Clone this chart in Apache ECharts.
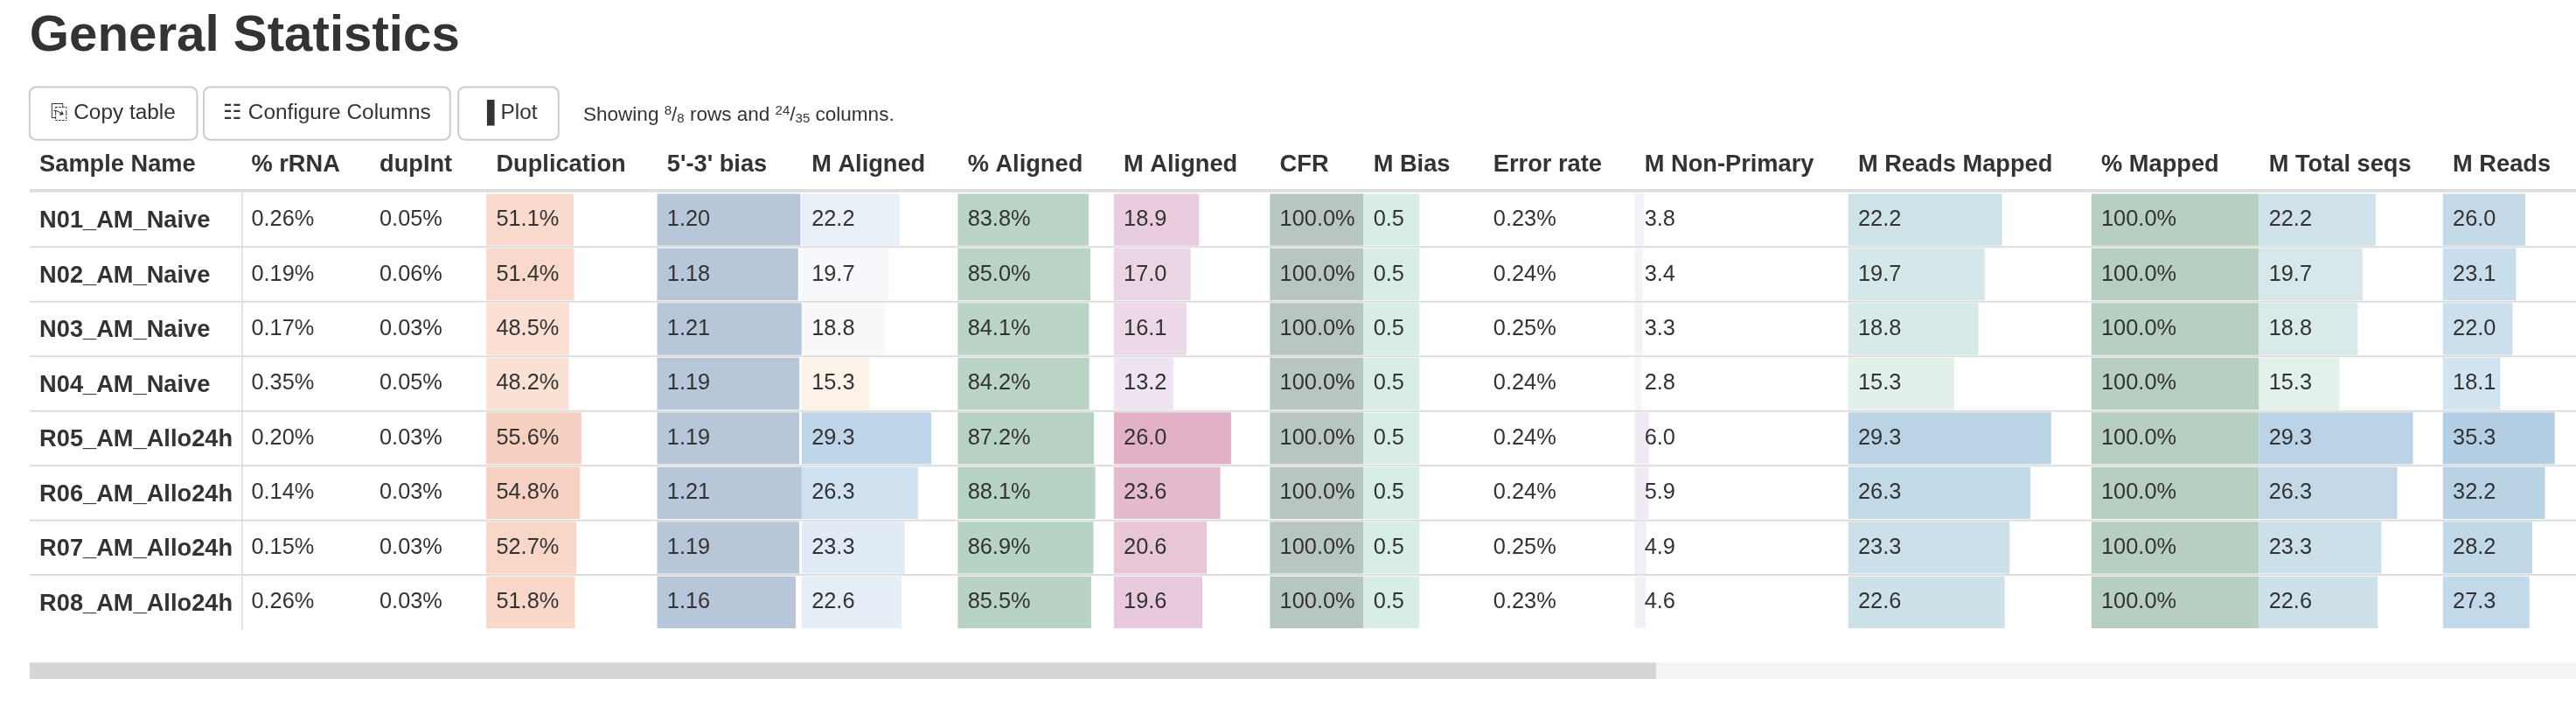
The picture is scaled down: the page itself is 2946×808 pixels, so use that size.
<!DOCTYPE html>
<html>
<head>
<meta charset="utf-8">
<script src="https://cdn.jsdelivr.net/npm/echarts@6/dist/echarts.min.js"></script>
<style>html,body{margin:0;padding:0;background:#fff}#chart{width:2946px;height:808px}</style>
</head>
<body>
<div id="chart"></div>
<script>
// sample rows
var samples = ['N01_AM_Naive', 'N02_AM_Naive', 'N03_AM_Naive', 'N04_AM_Naive',
	'R05_AM_Allo24h', 'R06_AM_Allo24h', 'R07_AM_Allo24h', 'R08_AM_Allo24h'];

var rRNA = [0.26, 0.19, 0.17, 0.35, 0.20, 0.14, 0.15, 0.26];
var dupInt = [0.05, 0.06, 0.03, 0.05, 0.03, 0.03, 0.03, 0.03];
var duplication = [51.1, 51.4, 48.5, 48.2, 55.6, 54.8, 52.7, 51.8];
var bias53 = [1.20, 1.18, 1.21, 1.19, 1.19, 1.21, 1.19, 1.16];
var mAligned = [22.2, 19.7, 18.8, 15.3, 29.3, 26.3, 23.3, 22.6];
var pctAligned = [83.8, 85.0, 84.1, 84.2, 87.2, 88.1, 86.9, 85.5];
var mAligned2 = [18.9, 17.0, 16.1, 13.2, 26.0, 23.6, 20.6, 19.6];
var cfr = [100.0, 100.0, 100.0, 100.0, 100.0, 100.0, 100.0, 100.0];
var mBias = [0.5, 0.5, 0.5, 0.5, 0.5, 0.5, 0.5, 0.5];
var errorRate = [0.23, 0.24, 0.25, 0.24, 0.24, 0.24, 0.25, 0.23];
var mNonPrimary = [3.8, 3.4, 3.3, 2.8, 6.0, 5.9, 4.9, 4.6];
var mReadsMapped = [22.2, 19.7, 18.8, 15.3, 29.3, 26.3, 23.3, 22.6];
var pctMapped = [100.0, 100.0, 100.0, 100.0, 100.0, 100.0, 100.0, 100.0];
var mTotalSeqs = [22.2, 19.7, 18.8, 15.3, 29.3, 26.3, 23.3, 22.6];
var mReads = [26.0, 23.1, 22.0, 18.1, 35.3, 32.2, 28.2, 27.3];

var s = 2946 / 1568;
var FONT = 'Liberation Sans, Arial, sans-serif';

// column layout (reference px), scale max, colours low/(mid)/high
var columns = [
	{name: '% rRNA', data: rRNA, left: 147, width: 78, max: 100, suffix: '%', dec: 2},
	{name: 'dupInt', data: dupInt, left: 225, width: 71, max: 100, suffix: '%', dec: 2},
	{name: 'Duplication', data: duplication, left: 296, width: 104, max: 100, suffix: '%', dec: 1, lo: '#fbe0d4', hi: '#f6d0c0'},
	{name: "5'-3' bias", data: bias53, left: 400, width: 88, max: 1.21, suffix: '', dec: 2, lo: '#b8c6d9', hi: '#b8c6d9'},
	{name: 'M Aligned', data: mAligned, left: 488, width: 95, max: 35.3, suffix: '', dec: 1, lo: '#fdf2e8', mid: '#f7f9fc', hi: '#bfd6ea'},
	{name: '% Aligned', data: pctAligned, left: 583, width: 95, max: 100, suffix: '%', dec: 1, lo: '#bad4c5', hi: '#b6d2c2'},
	{name: 'M Aligned', data: mAligned2, left: 678, width: 95, max: 34.6, suffix: '', dec: 1, lo: '#eee3f0', hi: '#e3b1c7'},
	{name: 'CFR', data: cfr, left: 773, width: 57, max: 100, suffix: '%', dec: 1, lo: '#b8c6c0', hi: '#b8c6c0'},
	{name: 'M Bias', data: mBias, left: 830, width: 68, max: 1, suffix: '', dec: 1, lo: '#d8eee5', hi: '#d8eee5'},
	{name: 'Error rate', data: errorRate, left: 903, width: 92, max: 100, suffix: '%', dec: 2},
	{name: 'M Non-Primary', data: mNonPrimary, left: 995, width: 130, max: 90, suffix: '', dec: 1, lo: '#f8f4fa', hi: '#f1eaf5'},
	{name: 'M Reads Mapped', data: mReadsMapped, left: 1125, width: 148, max: 35.1, suffix: '', dec: 1, lo: '#e1f1ea', hi: '#bad4e6'},
	{name: '% Mapped', data: pctMapped, left: 1273, width: 102, max: 100, suffix: '%', dec: 1, lo: '#b7cfc0', hi: '#b7cfc0'},
	{name: 'M Total seqs', data: mTotalSeqs, left: 1375, width: 112, max: 35, suffix: '', dec: 1, lo: '#e3f1ec', hi: '#bbd3e6'},
	{name: 'M Reads', data: mReads, left: 1487, width: 112, max: 42, suffix: '', dec: 1, lo: '#d2e4ef', hi: '#b4cfe3'}
];

var rowTop = 117, rowH = 33.25, nRows = samples.length;

function mix(a, b, t) {
	var pa = [1, 3, 5].map(function (i) { return parseInt(a.substr(i, 2), 16); });
	var pb = [1, 3, 5].map(function (i) { return parseInt(b.substr(i, 2), 16); });
	return 'rgb(' + pa.map(function (v, i) { return Math.round(v + (pb[i] - v) * t); }).join(',') + ')';
}
function scaleColor(c, t) {
	if (!c.lo) return 'rgba(0,0,0,0)';
	if (!c.mid) return mix(c.lo, c.hi, t);
	return t < 0.3 ? mix(c.lo, c.mid, t / 0.3) : mix(c.mid, c.hi, (t - 0.3) / 0.7);
}

var grids = [], xAxes = [], yAxes = [], series = [], graphics = [];

columns.forEach(function (c, ci) {
	grids.push({left: c.left * s, width: c.width * s, top: rowTop * s, height: rowH * nRows * s});
	xAxes.push({gridIndex: ci, type: 'value', min: 0, max: c.max, show: false});
	yAxes.push({gridIndex: ci, type: 'category', data: samples, inverse: true, show: false});
	var mn = Math.min.apply(null, c.data), mx = Math.max.apply(null, c.data);
	series.push({
		type: 'bar', xAxisIndex: ci, yAxisIndex: ci, barCategoryGap: '5%', silent: true,
		data: c.data.map(function (v) {
			var t = mx > mn ? (v - mn) / (mx - mn) : 0;
			return {value: v, itemStyle: {color: scaleColor(c, t)}};
		}),
		label: {
			show: true, position: 'insideLeft', distance: 6 * s, color: '#333',
			fontFamily: FONT, fontSize: 13.5 * s,
			formatter: function (p) { return p.value.toFixed(c.dec) + c.suffix; }
		}
	});
	graphics.push({type: 'text', left: (c.left + 6) * s, top: 93 * s,
		style: {text: c.name, font: 'bold ' + (14.5 * s) + 'px ' + FONT, fill: '#333'}});
});

// sample names and header
graphics.push({type: 'text', left: 24 * s, top: 93 * s,
	style: {text: 'Sample Name', font: 'bold ' + (14.5 * s) + 'px ' + FONT, fill: '#333'}});
samples.forEach(function (n, i) {
	graphics.push({type: 'text', x: 24 * s, y: (rowTop + rowH * i + rowH / 2 + 1) * s,
		style: {text: n, font: 'bold ' + (14.5 * s) + 'px ' + FONT, fill: '#333', verticalAlign: 'middle'}});
	if (i > 0) {
		graphics.push({type: 'rect', z: 10, shape: {x: 18 * s, y: (rowTop + rowH * i) * s - 1, width: 1550 * s, height: 2},
			style: {fill: '#dddddd'}});
	}
});
graphics.push({type: 'rect', z: 10, shape: {x: 18 * s, y: (rowTop - 2) * s, width: 1550 * s, height: 2 * s}, style: {fill: '#dddddd'}});
graphics.push({type: 'rect', z: 10, shape: {x: 147 * s, y: rowTop * s, width: 1.5, height: rowH * nRows * s}, style: {fill: '#cfe0dc'}});

// title, buttons, note
graphics.push({type: 'text', left: 18 * s, top: 7 * s,
	style: {text: 'General Statistics', font: 'bold ' + (31 * s) + 'px ' + FONT, fill: '#333'}});
[['Copy table', 18, 102, '\u2398 '], ['Configure Columns', 124, 150, '\u2637 '], ['Plot', 279, 61, '\u2590 ']].forEach(function (b) {
	graphics.push({type: 'rect', shape: {x: b[1] * s, y: 53 * s, width: b[2] * s, height: 32 * s, r: 4 * s},
		style: {fill: '#fff', stroke: '#cccccc', lineWidth: 2}});
	graphics.push({type: 'text', x: (b[1] + b[2] / 2) * s, y: 69 * s,
		style: {text: b[3] + b[0], font: (13 * s) + 'px ' + FONT, fill: '#333', align: 'center', verticalAlign: 'middle'}});
});
graphics.push({type: 'text', x: 355 * s, y: 70 * s,
	style: {text: 'Showing {sup|8}/{sub|8} rows and {sup|24}/{sub|35} columns.', font: (12 * s) + 'px ' + FONT,
		fill: '#333', verticalAlign: 'middle',
		rich: {sup: {fontSize: 8 * s, verticalAlign: 'top', padding: [0, 0, 10, 0], fontFamily: FONT, fill: '#333'},
			sub: {fontSize: 8 * s, padding: [8, 0, 0, 0], fontFamily: FONT, fill: '#333'}}}});

// scrollbar
graphics.push({type: 'rect', shape: {x: 18 * s, y: 403 * s, width: 1550 * s, height: 10 * s}, style: {fill: '#f4f4f4'}});
graphics.push({type: 'rect', shape: {x: 18 * s, y: 403 * s, width: 990 * s, height: 10 * s}, style: {fill: '#d6d6d6'}});

var myChart = echarts.init(document.getElementById('chart'));
var option = {
	animation: false,
	grid: grids,
	xAxis: xAxes,
	yAxis: yAxes,
	series: series,
	graphic: graphics
};
option && myChart.setOption(option);
</script>
</body>
</html>
